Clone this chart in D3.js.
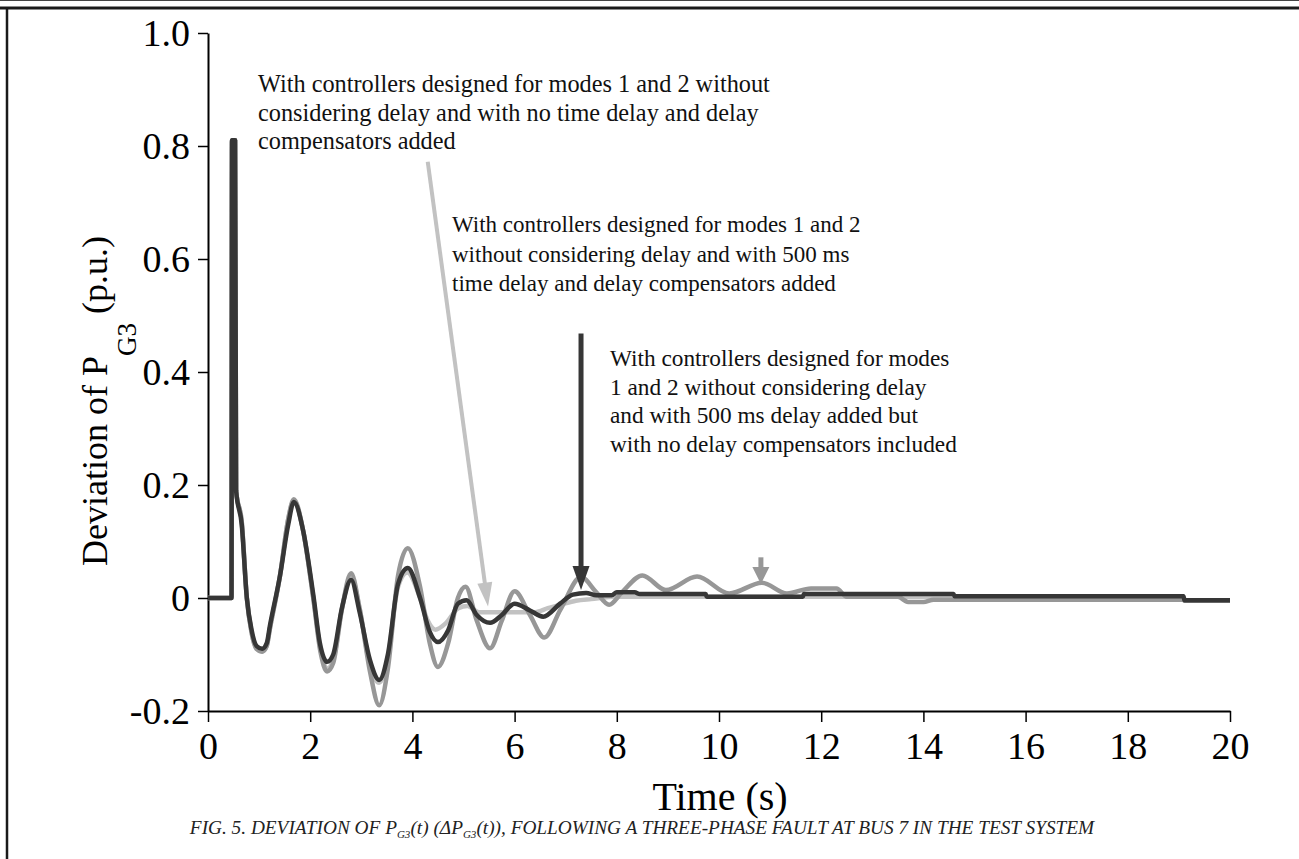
<!DOCTYPE html>
<html>
<head>
<meta charset="utf-8">
<script src="https://cdn.jsdelivr.net/npm/d3@7"></script>
<style>
  html, body { margin: 0; padding: 0; background: #fff; }
  svg { display: block; }
</style>
</head>
<body>
<svg id="chart" width="1299" height="859"></svg>
<script>
// ---------------- DATA ----------------
const xTicks = [0, 2, 4, 6, 8, 10, 12, 14, 16, 18, 20];
const yTicks = [-0.2, 0, 0.2, 0.4, 0.6, 0.8, 1.0];
const yTickLabels = ["-0.2", "0", "0.2", "0.4", "0.6", "0.8", "1.0"];

// Series: delay added, no delay compensators (dark)
const tDark = [0, 0.46, 0.47, 0.53, 0.55, 0.66, 0.76, 0.85, 0.95, 1.06, 1.15, 1.21, 1.41, 1.57, 1.68, 1.86, 2.06, 2.19, 2.33, 2.45, 2.62, 2.80, 2.97, 3.17, 3.35, 3.52, 3.72, 3.91, 4.15, 4.34, 4.50, 4.70, 4.89, 5.06, 5.26, 5.52, 5.75, 6.00, 6.30, 6.56, 6.89, 7.14, 7.40, 7.60, 7.90, 8.00, 8.35, 8.45, 9.74, 9.76, 11.64, 11.66, 14.59, 14.61, 19.09, 19.11, 20];
const vDark = [0, 0, 0.81, 0.81, 0.19, 0.13, 0.0, -0.055, -0.085, -0.09, -0.08, -0.05, 0.04, 0.13, 0.17, 0.12, 0.006, -0.08, -0.113, -0.10, -0.018, 0.032, -0.026, -0.11, -0.145, -0.10, 0.025, 0.053, 0.0, -0.06, -0.078, -0.057, -0.01, -0.004, -0.03, -0.044, -0.03, -0.01, -0.022, -0.033, -0.01, 0.006, 0.009, 0.005, 0.005, 0.01, 0.01, 0.007, 0.007, 0.002, 0.002, 0.007, 0.007, 0.003, 0.003, -0.004, -0.004];

// Series: 500 ms delay with delay compensators (medium grey)
const tMid = [0, 0.46, 0.47, 0.53, 0.55, 0.66, 0.76, 0.85, 0.95, 1.06, 1.15, 1.21, 1.41, 1.57, 1.68, 1.86, 2.06, 2.20, 2.33, 2.45, 2.62, 2.80, 2.97, 3.17, 3.35, 3.52, 3.72, 3.91, 4.15, 4.34, 4.50, 4.70, 4.89, 5.04, 5.26, 5.52, 5.75, 6.00, 6.30, 6.58, 6.90, 7.30, 7.60, 7.85, 8.10, 8.50, 8.96, 9.57, 10.20, 10.84, 11.33, 11.80, 12.30, 12.50, 13.50, 13.70, 14.00, 14.20, 19.09, 19.11, 20];
const vMid = [0, 0, 0.81, 0.81, 0.19, 0.135, 0.0, -0.06, -0.09, -0.095, -0.085, -0.055, 0.04, 0.14, 0.175, 0.12, 0.0, -0.095, -0.13, -0.115, -0.02, 0.044, -0.02, -0.13, -0.19, -0.125, 0.04, 0.088, 0.02, -0.08, -0.122, -0.08, 0.0, 0.02, -0.04, -0.089, -0.04, 0.012, -0.03, -0.07, -0.02, 0.037, 0.01, -0.012, 0.01, 0.04, 0.014, 0.038, 0.008, 0.027, 0.008, 0.017, 0.017, 0.002, 0.002, -0.007, -0.007, -0.003, -0.003, -0.005, -0.005];

// Series: no time delay (light grey)
const tLight = [0, 0.46, 0.47, 0.53, 0.55, 0.66, 0.76, 0.85, 0.95, 1.06, 1.15, 1.21, 1.41, 1.57, 1.68, 1.86, 2.06, 2.20, 2.33, 2.45, 2.62, 2.80, 2.97, 3.17, 3.35, 3.52, 3.72, 3.90, 4.15, 4.30, 4.45, 4.65, 4.90, 5.08, 5.30, 6.40, 6.65, 6.90, 7.20, 7.50, 8.00, 14.59, 14.61, 19.09, 19.11, 20];
const vLight = [0, 0, 0.81, 0.81, 0.19, 0.135, 0.0, -0.06, -0.09, -0.095, -0.085, -0.055, 0.04, 0.14, 0.172, 0.12, 0.0, -0.09, -0.125, -0.11, -0.02, 0.038, -0.02, -0.12, -0.15, -0.105, 0.02, 0.045, 0.0, -0.04, -0.056, -0.045, -0.018, -0.014, -0.025, -0.025, -0.018, -0.012, -0.005, -0.002, 0.002, 0.002, -0.002, -0.002, -0.004, -0.004];

// Annotation texts
const note1 = ["With controllers designed for modes 1 and 2 without",
               "considering delay and with no time delay and delay",
               "compensators added"];
const note2 = ["With controllers designed for modes 1 and 2",
               "without considering delay and with 500 ms",
               "time delay and delay compensators added"];
const note3 = ["With controllers designed for modes",
               "1 and 2 without considering delay",
               "and with 500 ms delay added but",
               "with no delay compensators included"];

// Arrows: [t0, v0, t1(tip), v1(tip)]
const arrowLight = [4.30, 0.772, 5.48, -0.015];
const arrowDark  = [7.30, 0.468, 7.30, 0.014];
const arrowMid   = [10.82, 0.072, 10.82, 0.025];

// ---------------- DRAW ----------------
const svg = d3.select("#chart");
const W = 1299, H = 859;
svg.append("rect").attr("width", W).attr("height", H).attr("fill", "#fff");

// frame
svg.append("line").attr("x1", 0).attr("x2", W).attr("y1", 0.5).attr("y2", 0.5)
  .attr("stroke", "#444").attr("stroke-width", 1);
svg.append("line").attr("x1", 0).attr("x2", W).attr("y1", 8).attr("y2", 8)
  .attr("stroke", "#1a1a1a").attr("stroke-width", 3);
svg.append("line").attr("x1", 7).attr("x2", 7).attr("y1", 8).attr("y2", H)
  .attr("stroke", "#1a1a1a").attr("stroke-width", 2.5);

const x = d3.scaleLinear().domain([0, 20]).range([208, 1230]);
const y = d3.scaleLinear().domain([-0.2, 1.0]).range([711, 33]);

const FONT = '"Liberation Serif", "Times New Roman", serif';

// axes
const xAxis = d3.axisBottom(x).tickValues(xTicks).tickSize(11).tickSizeOuter(0).tickPadding(10)
  .tickFormat(d3.format("d"));
const gx = svg.append("g").attr("transform", `translate(0,${y(-0.2)})`).call(xAxis);
gx.select(".domain").attr("stroke", "#000").attr("stroke-width", 2);
gx.selectAll(".tick line").attr("stroke", "#000").attr("stroke-width", 1.5);
gx.selectAll(".tick text").attr("font-family", FONT).attr("font-size", 38).attr("fill", "#000");

const yAxis = d3.axisLeft(y).tickValues(yTicks).tickSize(10).tickSizeOuter(0).tickPadding(8)
  .tickFormat((d, i) => yTickLabels[i]);
const gy = svg.append("g").attr("transform", `translate(${x(0)},0)`).call(yAxis);
gy.select(".domain").attr("stroke", "#000").attr("stroke-width", 2);
gy.selectAll(".tick line").attr("stroke", "#000").attr("stroke-width", 1.5);
gy.selectAll(".tick text").attr("font-family", FONT).attr("font-size", 38).attr("fill", "#000");

// lines
const line = d3.line().x(d => x(d[0])).y(d => y(d[1])).curve(d3.curveMonotoneX);
const series = [
  {t: tLight, v: vLight, color: "#c2c2c2"},
  {t: tMid, v: vMid, color: "#979797"},
  {t: tDark, v: vDark, color: "#363636"}
];
series.forEach(s => {
  const pts = s.t.map((t, i) => [t, s.v[i]]);
  svg.append("path").datum(pts).attr("d", line)
    .attr("fill", "none").attr("stroke", s.color).attr("stroke-width", 4.5)
    .attr("stroke-linejoin", "round");
});

// arrows
function arrow(a, color, w, headL, headW) {
  const x0 = x(a[0]), y0 = y(a[1]), x1 = x(a[2]), y1 = y(a[3]);
  const dx = x1 - x0, dy = y1 - y0, len = Math.hypot(dx, dy);
  const ux = dx / len, uy = dy / len;
  const bx = x1 - ux * headL, by = y1 - uy * headL;
  svg.append("line").attr("x1", x0).attr("y1", y0)
    .attr("x2", bx + ux * 2).attr("y2", by + uy * 2)
    .attr("stroke", color).attr("stroke-width", w);
  const px = -uy, py = ux;
  svg.append("path")
    .attr("d", `M${x1},${y1}L${bx + px * headW},${by + py * headW}L${bx - px * headW},${by - py * headW}Z`)
    .attr("fill", color);
}
arrow(arrowLight, "#c2c2c2", 4, 24, 7.5);
arrow(arrowDark, "#363636", 5, 24, 8.5);
arrow(arrowMid, "#979797", 5, 17, 8.5);

// annotation texts
function note(lines, x0, y0, lh, fs) {
  const t = svg.append("text").attr("font-family", FONT).attr("font-size", fs).attr("fill", "#111");
  lines.forEach((s, i) => t.append("tspan").attr("x", x0).attr("y", y0 + i * lh).text(s));
}
note(note1, 258, 92, 28.6, 24.3);
note(note2, 452, 232, 29.5, 23);
note(note3, 610, 366, 28.5, 23.3);

// axis titles
svg.append("text").attr("x", 720).attr("y", 810).attr("text-anchor", "middle")
  .attr("font-family", FONT).attr("font-size", 40).attr("fill", "#000").text("Time (s)");

const yt = svg.append("text").attr("transform", "translate(107,566) rotate(-90)")
  .attr("font-family", FONT).attr("font-size", 36).attr("fill", "#000");
yt.append("tspan").text("Deviation of P");
yt.append("tspan").attr("font-size", 27).attr("dy", 29).text("G3");
yt.append("tspan").attr("dy", -29).text("  (p.u.)");

// caption
const cap = svg.append("text").attr("x", 642).attr("y", 834).attr("text-anchor", "middle")
  .attr("font-family", FONT).attr("font-size", 19.3).attr("font-style", "italic").attr("fill", "#222");
cap.append("tspan").text("FIG. 5. DEVIATION OF P");
cap.append("tspan").attr("font-size", 11).attr("dy", 4).text("G3");
cap.append("tspan").attr("dy", -4).text("(t) (ΔP");
cap.append("tspan").attr("font-size", 11).attr("dy", 4).text("G3");
cap.append("tspan").attr("dy", -4).text("(t)), FOLLOWING A THREE-PHASE FAULT AT BUS 7 IN THE TEST SYSTEM");
</script>
</body>
</html>
